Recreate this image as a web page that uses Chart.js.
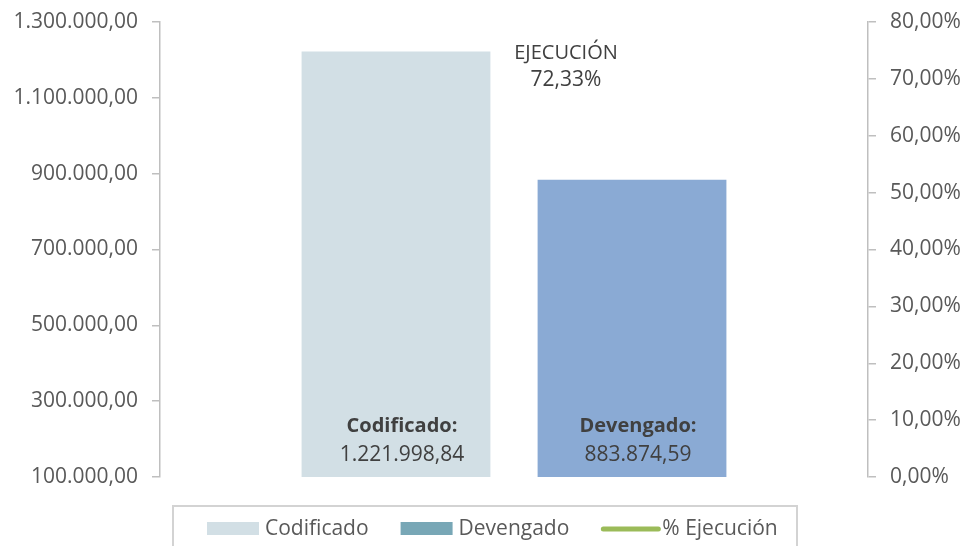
<!DOCTYPE html>
<html>
<head>
<meta charset="utf-8">
<script src="https://cdn.jsdelivr.net/npm/chart.js@4"></script>
<style>
html,body{margin:0;padding:0;background:#fff;}
#wrap{width:964px;height:546px;position:relative;}
</style>
</head>
<body>
<div id="wrap"><canvas id="c" width="964" height="546"></canvas></div>
<script>
// ---- data ----
const categories = [''];
const seriesLabels = ['Codificado', 'Devengado', '% Ejecución'];
const codificado = [1221998.84];
const devengado = [883874.59];
const ejecucion = [72.33];
const leftTicks = [100000, 300000, 500000, 700000, 900000, 1100000, 1300000];
const rightTicks = [0, 10, 20, 30, 40, 50, 60, 70, 80];
const ejecucionTitle = 'EJECUCIÓN';

const FONT = "'Open Sans', 'DejaVu Sans', sans-serif";
const colCod = '#D2DFE5';
const colDev = '#8AAAD4';
const colDevLegend = '#78A7B6';
const colEje = '#9BBB59';

function fmtNum(v, dec) {
  const parts = v.toFixed(dec).split('.');
  parts[0] = parts[0].replace(/\B(?=(\d{3})+(?!\d))/g, '.');
  return parts.join(',');
}

const labelsPlugin = {
  id: 'customLabels',
  afterDatasetsDraw(chart) {
    const ctx = chart.ctx;
    ctx.save();
    ctx.fillStyle = '#404040';
    ctx.textAlign = 'center';
    ctx.textBaseline = 'alphabetic';
    const bottom = chart.chartArea.bottom;
    [0, 1].forEach(di => {
      const meta = chart.getDatasetMeta(di);
      const ds = chart.data.datasets[di];
      meta.data.forEach((bar, i) => {
        const x = bar.x + 6;
        ctx.font = 'bold 20px ' + FONT;
        ctx.fillText(ds.label + ':', x, bottom - 45);
        ctx.font = '21px ' + FONT;
        ctx.fillText(fmtNum(ds.data[i], 2), x, bottom - 16);
      });
    });
    const lm = chart.getDatasetMeta(2);
    lm.data.forEach((pt, i) => {
      const x = pt.x + 52;
      ctx.font = '20px ' + FONT;
      ctx.fillText(ejecucionTitle, x, pt.y - 7);
      ctx.font = '21px ' + FONT;
      ctx.fillText(fmtNum(chart.data.datasets[2].data[i], 2) + '%', x, pt.y + 20);
    });
    ctx.restore();
  },
  afterDraw(chart) {
    const ctx = chart.ctx;
    ctx.save();
    // legend box
    ctx.strokeStyle = '#D3D3D3';
    ctx.lineWidth = 2;
    ctx.strokeRect(173, 506, 624, 60);
    ctx.font = '21px ' + FONT;
    ctx.fillStyle = '#595959';
    ctx.textBaseline = 'middle';
    ctx.textAlign = 'left';
    const cy = 529;
    let x = 207;
    const items = [
      {label: chart.data.datasets[0].label, type: 'box', color: colCod},
      {label: chart.data.datasets[1].label, type: 'box', color: colDevLegend},
      {label: chart.data.datasets[2].label, type: 'line', color: colEje}
    ];
    items.forEach(it => {
      if (it.type === 'box') {
        ctx.fillStyle = it.color;
        ctx.fillRect(x, cy - 7, 52, 13);
        x += 58;
      } else {
        ctx.strokeStyle = it.color;
        ctx.lineWidth = 5;
        ctx.lineCap = 'round';
        ctx.beginPath();
        ctx.moveTo(x + 2, cy);
        ctx.lineTo(x + 57, cy);
        ctx.stroke();
        x += 61;
      }
      ctx.fillStyle = '#595959';
      ctx.fillText(it.label, x, cy);
      x += ctx.measureText(it.label).width + 32;
    });
    ctx.restore();
  }
};

new Chart(document.getElementById('c'), {
  data: {
    labels: categories,
    datasets: [
      {type: 'bar', label: seriesLabels[0], data: codificado, backgroundColor: colCod, yAxisID: 'y', order: 2},
      {type: 'bar', label: seriesLabels[1], data: devengado, backgroundColor: colDev, yAxisID: 'y', order: 2},
      {type: 'line', label: seriesLabels[2], data: ejecucion, borderColor: colEje, backgroundColor: colEje, borderWidth: 3, pointRadius: 0, yAxisID: 'y1', order: 1}
    ]
  },
  options: {
    responsive: false,
    animation: false,
    devicePixelRatio: 1,
    layout: {padding: {top: 22, bottom: 69, left: 0, right: 0}},
    datasets: {bar: {categoryPercentage: 0.6667, barPercentage: 0.8}},
    plugins: {legend: {display: false}, tooltip: {enabled: false}},
    scales: {
      x: {display: false, offset: true},
      y: {
        position: 'left',
        min: leftTicks[0], max: leftTicks[leftTicks.length - 1],
        afterBuildTicks(s) { s.ticks = leftTicks.map(v => ({value: v})); },
        afterFit(s) { s.width = 160; s.paddingTop = 0; s.paddingBottom = 0; },
        border: {display: true, color: '#BFBFBF', width: 1.5},
        grid: {drawOnChartArea: false, drawTicks: true, tickLength: 8, color: '#BFBFBF', lineWidth: 1.5},
        ticks: {color: '#595959', font: {family: FONT, size: 21}, padding: 14,
          callback: v => fmtNum(v, 2)}
      },
      y1: {
        position: 'right',
        min: rightTicks[0], max: rightTicks[rightTicks.length - 1],
        afterBuildTicks(s) { s.ticks = rightTicks.map(v => ({value: v})); },
        afterFit(s) { s.width = 96; s.paddingTop = 0; s.paddingBottom = 0; },
        border: {display: true, color: '#BFBFBF', width: 1.5},
        grid: {drawOnChartArea: false, drawTicks: true, tickLength: 8, color: '#BFBFBF', lineWidth: 1.5},
        ticks: {color: '#595959', font: {family: FONT, size: 21}, padding: 14,
          callback: v => fmtNum(v, 2) + '%'}
      }
    }
  },
  plugins: [labelsPlugin]
});
</script>
</body>
</html>
